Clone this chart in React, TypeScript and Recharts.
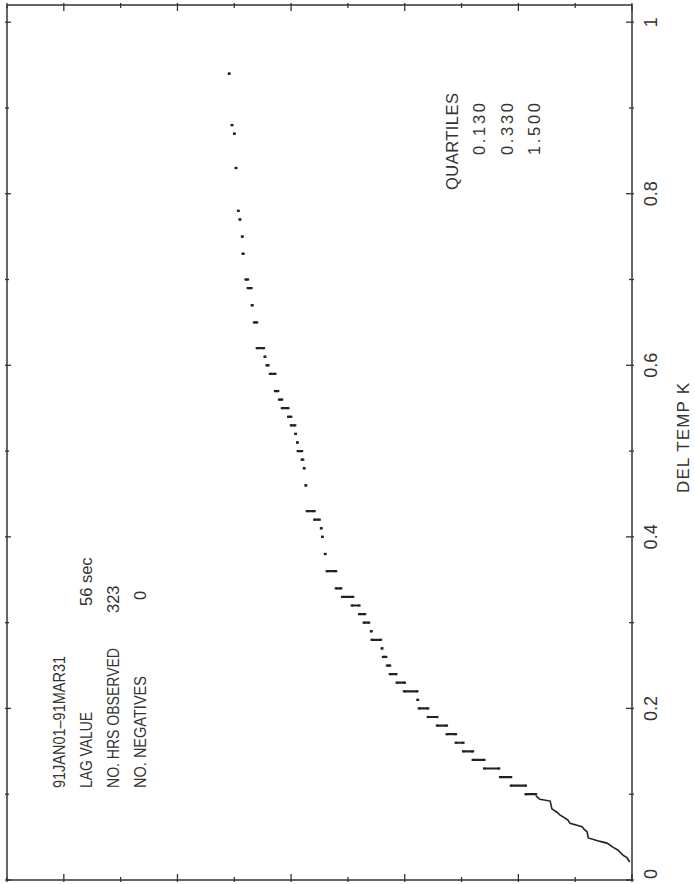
import { ComposedChart, Line, XAxis, YAxis } from 'recharts';

// del temp levels (K) and the span of each run of tied values on the rank axis
const levels = [
  0.94, 0.88, 0.87, 0.83, 0.78, 0.77, 0.75, 0.73, 0.7, 0.69,
  0.67, 0.65, 0.62, 0.61, 0.6, 0.59, 0.57, 0.56, 0.55, 0.54,
  0.53, 0.52, 0.51, 0.5, 0.49, 0.48, 0.46, 0.43, 0.42, 0.41,
  0.4, 0.38, 0.36, 0.34, 0.33, 0.32, 0.31, 0.3, 0.29, 0.28,
  0.27, 0.26, 0.25, 0.24, 0.23, 0.22, 0.21, 0.2, 0.19, 0.18,
  0.17, 0.16, 0.15, 0.14, 0.13, 0.12, 0.11, 0.1,
];
const runStart = [
  70.9, 70.4, 70.0, 69.7, 69.3, 69.0, 68.6, 68.4, 67.6, 67.0,
  66.8, 66.0, 64.8, 64.6, 64.0, 62.8, 62.3, 61.6, 60.5, 60.0,
  59.3, 59.2, 58.9, 58.1, 57.9, 57.7, 57.4, 55.9, 55.0, 54.7,
  54.5, 54.0, 52.1, 51.2, 49.1, 48.0, 47.0, 46.3, 45.9, 44.2,
  44.0, 43.3, 42.6, 41.5, 40.0, 37.8, 37.7, 35.9, 34.3, 32.6,
  31.0, 29.7, 28.0, 26.0, 23.4, 21.3, 18.7, 16.9,
];
const runEnd = [
  70.9, 70.4, 70.0, 69.7, 69.3, 69.0, 68.6, 68.5, 68.0, 67.6,
  66.9, 66.5, 66.0, 64.6, 64.3, 63.7, 62.8, 62.1, 61.6, 60.5,
  60.0, 59.2, 58.9, 58.8, 58.1, 57.7, 57.4, 57.2, 55.9, 54.7,
  54.5, 54.0, 53.7, 52.1, 51.0, 49.3, 48.0, 47.2, 45.9, 45.8,
  44.0, 43.8, 43.1, 42.6, 41.4, 40.1, 37.7, 37.5, 35.9, 34.3,
  32.6, 31.0, 29.7, 28.0, 26.0, 23.2, 21.3, 18.7,
];

// low end of the distribution, finer resolution
const tailPos = [16.9, 16.2, 14.4, 14.1, 13.2, 12.7, 11.3, 10.9, 8.8, 8.4, 7.9, 7.7, 5.6, 4.4, 3.3, 2.5, 1.6, 0.9, 0.4];
const tailTemp = [0.098, 0.094, 0.092, 0.083, 0.079, 0.076, 0.07, 0.066, 0.062, 0.059, 0.056, 0.049, 0.045, 0.043, 0.038, 0.035, 0.029, 0.026, 0.021];

const rankTicks = [0, 10, 20, 30, 40, 50, 60, 70, 80, 90, 100, 110];
const tempTicks = [0, 0.1, 0.2, 0.3, 0.4, 0.5, 0.6, 0.7, 0.8, 0.9, 1];
const tempTickLabels = ['0', '', '0.2', '', '0.4', '', '0.6', '', '0.8', '', '1'];

const infoLabels = ['91JAN01\u201391MAR31', 'LAG VALUE', 'NO. HRS OBSERVED', 'NO. NEGATIVES'];
const infoValues = ['', '56 sec', '323', '0'];
const quartiles = ['0.130', '0.330', '1.500'];

const INK = '#333';
const FONT = "'Liberation Sans', Arial, sans-serif";

const runData: { u: number; v: number | null }[] = [];
levels.forEach((v, i) => {
  runData.push({ u: runStart[i], v });
  runData.push({ u: runEnd[i], v });
  runData.push({ u: runEnd[i], v: null });
});
const tailData = tailPos.map((u, i) => ({ u, v: tailTemp[i] }));

const isMajorRank = (v: number) => Math.round(v / 10) % 2 === 0;
const isMajorTemp = (v: number) => Math.round(v * 10) % 2 === 0;

const BottomTick = (props: any) => {
  const { x, y, payload } = props;
  const len = isMajorRank(payload.value) ? 8 : 5;
  return <line x1={x} y1={y} x2={x} y2={y - len} stroke={INK} strokeWidth={1.3} />;
};

const TopTick = (props: any) => {
  const { x, y, payload } = props;
  const len = isMajorRank(payload.value) ? 8 : 5;
  return <line x1={x} y1={y} x2={x} y2={y + len} stroke={INK} strokeWidth={1.3} />;
};

const RightTick = (props: any) => {
  const { x, y, payload, index } = props;
  const major = isMajorTemp(payload.value);
  const lx = x + 23;
  const ly = Math.min(y, 874);
  return (
    <g>
      <line x1={x} y1={y} x2={x - (major ? 8 : 5)} y2={y} stroke={INK} strokeWidth={1.3} />
      {major && (
        <text x={lx} y={ly} transform={`rotate(-90 ${lx} ${ly})`} textAnchor="middle" fontSize={18} fontFamily={FONT} fill={INK}>
          {tempTickLabels[index]}
        </text>
      )}
    </g>
  );
};

const LeftTick = (props: any) => {
  const { x, y, payload } = props;
  const len = isMajorTemp(payload.value) ? 6 : 4;
  return <line x1={x} y1={y} x2={x + len} y2={y} stroke={INK} strokeWidth={1.3} />;
};

const RunDot = (props: any) => {
  const { cx, cy, index } = props;
  if (cy == null || Number.isNaN(cy)) return <g key={`d${index}`} />;
  return <rect key={`d${index}`} x={cx - 1.3} y={cy - 1.1} width={2.6} height={2.2} fill="#222" />;
};

// plotter lettering: texts are fitted to their measured length
const VText = ({ x, y, size = 16.5, anchor = 'start', len, adjust = 'spacing', children }: any) => (
  <text x={x} y={y} transform={`rotate(-90 ${x} ${y})`} textAnchor={anchor} fontSize={size} fontFamily={FONT} fill={INK}
    textLength={len} lengthAdjust={len ? adjust : undefined}>
    {children}
  </text>
);

const frame = { stroke: INK, strokeWidth: 1.5 };

export default function App() {
  return (
    <div style={{ position: 'absolute', left: 0, top: 0, width: 695, height: 884, background: '#fff' }}>
      <ComposedChart width={695} height={884} margin={{ top: 0, right: 0, bottom: 0, left: 0 }}>
        <XAxis xAxisId="b" type="number" dataKey="u" domain={[0, 110]} ticks={rankTicks} reversed orientation="bottom"
          height={4} tickSize={0} tickLine={false} tick={<BottomTick />} interval={0} axisLine={frame} allowDataOverflow />
        <XAxis xAxisId="t" type="number" dataKey="u" domain={[0, 110]} ticks={rankTicks} reversed orientation="top"
          height={5} tickSize={0} tickLine={false} tick={<TopTick />} interval={0} axisLine={frame} allowDataOverflow />
        <YAxis yAxisId="r" type="number" domain={[0, 1.02]} ticks={tempTicks} orientation="right"
          width={63} tickSize={0} tickLine={false} tick={<RightTick />} interval={0} axisLine={frame} allowDataOverflow />
        <YAxis yAxisId="l" type="number" domain={[0, 1.02]} ticks={tempTicks} orientation="left"
          width={7} tickSize={0} tickLine={false} tick={<LeftTick />} interval={0} axisLine={frame} allowDataOverflow />
        <Line xAxisId="b" yAxisId="r" data={runData} dataKey="v" type="linear" stroke="#222" strokeWidth={2.2}
          connectNulls={false} dot={<RunDot />} activeDot={false} isAnimationActive={false} />
        <Line xAxisId="b" yAxisId="r" data={tailData} dataKey="v" type="linear" stroke="#222" strokeWidth={1.6}
          dot={false} activeDot={false} isAnimationActive={false} />
      </ComposedChart>
      <svg width={695} height={884} style={{ position: 'absolute', left: 0, top: 0, pointerEvents: 'none' }}>
        <VText x={689} y={438} size={17} anchor="middle" len={110}>DEL TEMP K</VText>
        {infoLabels.map((t, i) => (
          <VText key={t} x={65 + i * 27} y={788} size={17} len={[132, 76, 140, 112][i]} adjust="spacingAndGlyphs">{t}</VText>
        ))}
        {infoValues.map((t, i) => (t ? (
          <VText key={t} x={65 + i * 27} y={[0, 606, 613, 600][i]}>{t}</VText>
        ) : null))}
        <VText x={458} y={190} len={97}>QUARTILES</VText>
        {quartiles.map((t, i) => (
          <VText key={t} x={485 + i * 27.5} y={155} len={52}>{t}</VText>
        ))}
      </svg>
    </div>
  );
}
